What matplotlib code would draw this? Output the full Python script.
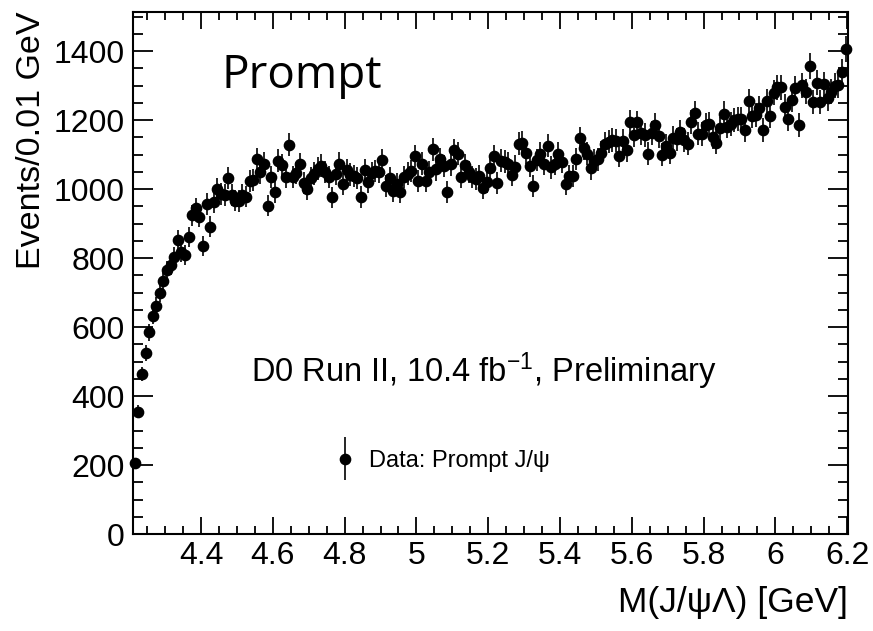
import matplotlib
matplotlib.use("Agg")
import matplotlib.pyplot as plt
import numpy as np
from matplotlib.container import ErrorbarContainer
from matplotlib.legend_handler import HandlerErrorbar
from matplotlib.ticker import MultipleLocator, StrMethodFormatter

plt.rcParams["font.family"] = ["Liberation Sans", "DejaVu Sans"]
plt.rcParams["mathtext.fontset"] = "custom"
plt.rcParams["mathtext.rm"] = "Liberation Sans"
plt.rcParams["mathtext.it"] = "Liberation Sans:italic"

# J/psi Lambda invariant mass, 0.01 GeV bins starting just above threshold
mass_start = 4.2155
bin_width = 0.01
events = [
    205, 354, 464, 525, 585, 633, 662, 698, 733, 765,
    780, 803, 853, 818, 808, 861, 924, 944, 920, 834,
    957, 891, 963, 999, 986, 983, 1032, 983, 966, 965,
    983, 978, 1024, 1026, 1086, 1048, 1074, 952, 1034, 992,
    1082, 1070, 1036, 1128, 1035, 1046, 1072, 1017, 1000, 1031,
    1045, 1059, 1068, 1050, 1034, 976, 1045, 1074, 1014, 1056,
    1042, 1037, 1032, 977, 1055, 1021, 1047, 1053, 1050, 1084,
    1010, 1031, 995, 1014, 992, 1036, 1045, 1053, 1096, 1023,
    1074, 1023, 1050, 1116, 1057, 1086, 1067, 992, 1072, 1113,
    1103, 1036, 1070, 1050, 1036, 1028, 1038, 1002, 1021, 1060,
    1096, 1018, 1082, 1079, 1074, 1041, 1065, 1132, 1134, 1105,
    1067, 1009, 1084, 1103, 1074, 1125, 1063, 1074, 1103, 1078,
    1014, 1038, 1038, 1087, 1147, 1118, 1103, 1060, 1082, 1086,
    1105, 1132, 1137, 1142, 1140, 1096, 1140, 1113, 1195, 1157,
    1193, 1163, 1157, 1103, 1163, 1186, 1154, 1099, 1125, 1105,
    1149, 1144, 1166, 1142, 1132, 1195, 1221, 1161, 1160, 1187,
    1190, 1150, 1134, 1176, 1219, 1181, 1188, 1200, 1202, 1202,
    1171, 1256, 1212, 1215, 1234, 1171, 1256, 1212, 1279, 1295,
    1295, 1239, 1202, 1258, 1292, 1186, 1301, 1282, 1357, 1253,
    1308, 1253, 1304, 1263, 1282, 1299, 1301, 1340, 1406,
]
mass = mass_start + bin_width * np.arange(len(events))
errors = np.sqrt(events)

x_ticks = [4.4, 4.6, 4.8, 5.0, 5.2, 5.4, 5.6, 5.8, 6.0, 6.2]
y_ticks = [0, 200, 400, 600, 800, 1000, 1200, 1400]

fig = plt.figure(figsize=(8.73, 6.31), dpi=100)
ax = fig.add_axes([0.1527, 0.1537, 0.8183, 0.8277])

cont = ax.errorbar(mass, events, yerr=errors, fmt="o", color="black",
                   ms=7.4, elinewidth=1.2, capsize=0,
                   label="Data: Prompt J/\u03c8")
cont.lines[0].set_clip_on(False)
for coll in cont.lines[2]:
    coll.set_clip_on(False)

ax.set_xlim(4.2114, 6.2014)
ax.set_ylim(0, 1514)
ax.set_xticks(x_ticks)
ax.set_yticks(y_ticks)
ax.xaxis.set_minor_locator(MultipleLocator(0.05))
ax.yaxis.set_minor_locator(MultipleLocator(50))
ax.xaxis.set_major_formatter(StrMethodFormatter("{x:g}"))

ax.tick_params(which="both", direction="in", top=True, right=True, width=1.3)
ax.tick_params(axis="x", which="major", length=12, labelsize=23, pad=5)
ax.tick_params(axis="x", which="minor", length=6)
ax.tick_params(axis="y", which="major", length=14.5, labelsize=23, pad=6)
ax.tick_params(axis="y", which="minor", length=7)
for sp in ax.spines.values():
    sp.set_linewidth(1.5)

ax.set_ylabel("Events/0.01 GeV", fontsize=24.5, loc="top")
ax.yaxis.set_label_coords(-0.121, 1.0)
ax.set_xlabel("M(J/\u03c8\u039b) [GeV]", fontsize=25.5, loc="right")
ax.xaxis.set_label_coords(1.0, -0.1)

ax.text(0.124, 0.854, "Prompt", transform=ax.transAxes, fontfamily="Open Sans",
        fontsize=33, ha="left", va="baseline")
ax.text(0.491, 0.291, "D0 Run II, 10.4 fb$^{-1}$, Preliminary", transform=ax.transAxes,
        fontsize=23.5, ha="center", va="baseline")

ax.legend(loc="center left", bbox_to_anchor=(0.2798, 0.1398), frameon=False,
          fontsize=17, handlelength=1.0, handletextpad=0.5, borderpad=0,
          borderaxespad=0, numpoints=1,
          handler_map={ErrorbarContainer: HandlerErrorbar(yerr_size=0.9)})

fig.savefig("out.png", dpi=100)
